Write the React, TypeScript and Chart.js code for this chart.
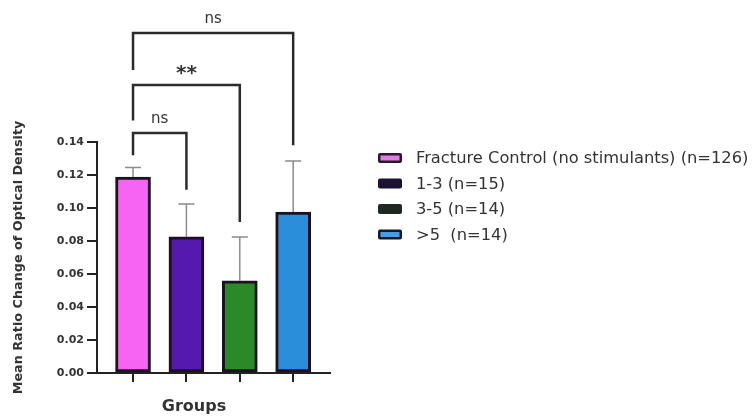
import { useEffect, useRef } from "react";
import { Chart, registerables } from "chart.js";

Chart.register(...registerables);

// ---- data ----
const groups = [
  "Fracture Control (no stimulants) (n=126)",
  "1-3 (n=15)",
  "3-5 (n=14)",
  ">5  (n=14)",
];
const groupPositions = [0, 1, 2, 3];
const means = [0.1188, 0.0825, 0.0558, 0.0976];
const errorTops = [0.1245, 0.1024, 0.0824, 0.1285];
const yTicks = [0, 0.02, 0.04, 0.06, 0.08, 0.1, 0.12, 0.14];

const barColors = ["#f763f3", "#5519b0", "#2b8a28", "#2b8edb"];
const legendFills = ["#e07ae6", "#1d1233", "#1f2823", "#4f9be0"];
const legendStrokes = ["#2b1830", "#1d1233", "#1f2823", "#141a2a"];

const bracketFrom = [0, 0, 0];
const bracketTo = [1, 2, 3];
const bracketLevel = [0.1455, 0.1745, 0.206];
const bracketLeftEnd = [0.132, 0.153, 0.1836];
const bracketRightEnd = [0.111, 0.0915, 0.138];
const bracketLabels = ["ns", "**", "ns"];

const xTitle = "Groups";
const yTitle = "Mean Ratio Change of Optical Density";

const FONT = "'DejaVu Sans', 'Liberation Sans', Arial, sans-serif";

const overlayPlugin = {
  id: "overlay",
  afterDatasetsDraw(chart: any) {
    const ctx = chart.ctx;
    const y = chart.scales.y;
    const meta = chart.getDatasetMeta(0);
    // error bars
    ctx.save();
    ctx.strokeStyle = "#8c8c8c";
    ctx.lineWidth = 1.5;
    meta.data.forEach((el: any, i: number) => {
      const cx = el.x;
      const yTop = y.getPixelForValue(errorTops[i]);
      const yBase = y.getPixelForValue(means[i]);
      ctx.beginPath();
      ctx.moveTo(cx, yBase);
      ctx.lineTo(cx, yTop);
      ctx.moveTo(cx - 8, yTop);
      ctx.lineTo(cx + 8, yTop);
      ctx.stroke();
    });
    ctx.restore();
  },
  afterDraw(chart: any) {
    const ctx = chart.ctx;
    const x = chart.scales.x;
    const y = chart.scales.y;
    ctx.save();
    // significance brackets
    ctx.strokeStyle = "#2b2b2b";
    ctx.lineWidth = 2.5;
    ctx.fillStyle = "#333";
    ctx.textAlign = "center";
    ctx.textBaseline = "alphabetic";
    bracketLevel.forEach((lvl, i) => {
      const xl = x.getPixelForValue(groupPositions[bracketFrom[i]]);
      const xr = x.getPixelForValue(groupPositions[bracketTo[i]]);
      const yl = y.getPixelForValue(lvl);
      ctx.beginPath();
      ctx.moveTo(xl, y.getPixelForValue(bracketLeftEnd[i]));
      ctx.lineTo(xl, yl);
      ctx.lineTo(xr, yl);
      ctx.lineTo(xr, y.getPixelForValue(bracketRightEnd[i]));
      ctx.stroke();
      const label = bracketLabels[i];
      if (label === "**") {
        ctx.font = `bold 20px ${FONT}`;
        ctx.fillText(label, (xl + xr) / 2, yl - 6);
      } else {
        ctx.font = `15px ${FONT}`;
        ctx.fillText(label, (xl + xr) / 2, yl - 10);
      }
    });
    // x title
    ctx.font = `bold 16px ${FONT}`;
    ctx.fillStyle = "#333";
    ctx.textAlign = "center";
    ctx.fillText(xTitle, 194, 411);
    // legend
    ctx.font = `16.3px ${FONT}`;
    ctx.textAlign = "left";
    ctx.textBaseline = "middle";
    groups.forEach((g, i) => {
      const cy = 158 + i * 25.5;
      ctx.fillStyle = legendStrokes[i];
      ctx.beginPath();
      ctx.roundRect(378, cy - 5, 24, 10, 2);
      ctx.fill();
      if (legendFills[i] !== legendStrokes[i]) {
        ctx.fillStyle = legendFills[i];
        ctx.fillRect(380.5, cy - 2.5, 19, 5);
      }
      ctx.fillStyle = "#333";
      ctx.fillText(g, 416, cy + 1);
    });
    ctx.restore();
  },
};

export default function App() {
  const canvasRef = useRef<HTMLCanvasElement | null>(null);

  useEffect(() => {
    if (!canvasRef.current) return;
    const chart = new Chart(canvasRef.current, {
      type: "bar",
      data: {
        datasets: [
          {
            data: groupPositions.map((p, i) => ({ x: p, y: means[i] })),
            backgroundColor: barColors,
            borderColor: "#1d1020",
            borderWidth: 3,
            borderSkipped: false,
            barThickness: 35,
          },
        ],
      },
      options: {
        responsive: false,
        animation: false,
        layout: { padding: { top: 142, right: 426, bottom: 37, left: 0 } },
        plugins: {
          legend: { display: false },
          tooltip: { enabled: false },
        },
        scales: {
          x: {
            type: "linear",
            offset: false,
            min: -0.675,
            max: 3.69,
            afterBuildTicks: (s: any) => {
              s.ticks = groupPositions.map((v) => ({ value: v }));
            },
            afterFit: (s: any) => {
              s.height = 9;
            },
            ticks: { display: false },
            grid: {
              offset: false,
              drawOnChartArea: false,
              drawTicks: true,
              tickLength: 9,
              color: "#222",
              lineWidth: 2,
            },
            border: { display: true, color: "#222", width: 2 },
          },
          y: {
            type: "linear",
            min: 0,
            max: 0.14,
            afterBuildTicks: (s: any) => {
              s.ticks = yTicks.map((v) => ({ value: v }));
            },
            afterFit: (s: any) => {
              s.width = 97;
            },
            ticks: {
              callback: (v: any) => Number(v).toFixed(2),
              font: { family: FONT, weight: "bold", size: 11 },
              color: "#333",
              padding: 3,
            },
            grid: {
              drawOnChartArea: false,
              drawTicks: true,
              tickLength: 10,
              color: "#222",
              lineWidth: 2,
            },
            border: { display: true, color: "#222", width: 2 },
            title: {
              display: true,
              text: yTitle,
              font: { family: FONT, weight: "bold", size: 12.8 },
              color: "#333",
              padding: { top: 11, bottom: 0 },
            },
          },
        },
      },
      plugins: [overlayPlugin],
    });
    return () => chart.destroy();
  }, []);

  return (
    <div style={{ position: "fixed", left: 0, top: 0, width: 756, height: 419, background: "#fff" }}>
      <canvas ref={canvasRef} width={756} height={419} style={{ display: "block" }} />
    </div>
  );
}
